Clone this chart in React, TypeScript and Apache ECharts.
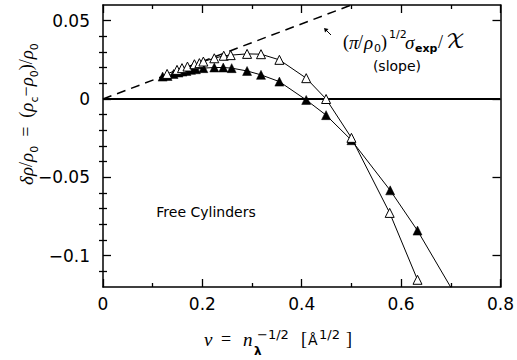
import React, { useEffect, useRef } from "react";
import * as echarts from "echarts";

// Open triangles (upper curve)
const openX = [0.129, 0.149, 0.159, 0.170, 0.184, 0.194, 0.202, 0.224, 0.243, 0.257, 0.290, 0.318, 0.355, 0.409, 0.449, 0.500, 0.577, 0.633];
const openY = [0.0160, 0.0186, 0.0197, 0.0207, 0.0222, 0.0229, 0.0239, 0.0260, 0.0276, 0.0280, 0.0288, 0.0286, 0.0250, 0.0133, 0.0000, -0.0248, -0.0727, -0.1154];

// Filled triangles (lower curve); last point lies below the frame
const filledX = [0.120, 0.130, 0.142, 0.152, 0.160, 0.168, 0.177, 0.187, 0.202, 0.224, 0.242, 0.259, 0.290, 0.318, 0.355, 0.409, 0.449, 0.500, 0.578, 0.633, 0.720];
const filledY = [0.0143, 0.0147, 0.0160, 0.0169, 0.0175, 0.0179, 0.0186, 0.0190, 0.0197, 0.0201, 0.0201, 0.0197, 0.0179, 0.0154, 0.0111, -0.0006, -0.0103, -0.0263, -0.0583, -0.0840, -0.1310];

// Slope line (dashed) and zero line
const slopeX = [0, 0.5];
const slopeY = [0, 0.06];
const zeroX = [0, 0.8];
const zeroY = [0, 0];

// Axis ticks
const xMin = 0, xMax = 0.8, xInterval = 0.2;
const yMin = -0.12, yMax = 0.06;
const yMajorTicks = [-0.1, -0.05, 0, 0.05];
const yMinorTicks = [-0.11, -0.09, -0.08, -0.07, -0.06, -0.04, -0.03, -0.02, -0.01, 0.01, 0.02, 0.03, 0.04];

const pairs = (xs: number[], ys: number[]) => xs.map((x, i) => [x, ys[i]]);

const SERIF = "'Liberation Serif', 'DejaVu Serif', serif";
const SANS = "'DejaVu Sans', sans-serif";

function txt(x: number, y: number, text: string, font: any, extra: any = {}) {
  return {
    type: "text",
    x,
    y,
    silent: true,
    style: {
      text,
      fill: "#000",
      align: "left",
      verticalAlign: "middle",
      ...font,
    },
    ...extra,
  };
}

export default function App() {
  const ref = useRef<HTMLDivElement>(null);
  useEffect(() => {
    document.body.style.margin = "0";
    if (!ref.current) return;
    const chart = echarts.init(ref.current, null, { renderer: "svg" });
    const fmt = (v: number) => (v === 0 ? "0" : String(v).replace("-", "\u2212"));
    const axisLine = { show: true, onZero: false, lineStyle: { color: "#000", width: 1.5 } };
    const majorTick = { show: true, inside: true, length: 8, lineStyle: { color: "#000", width: 1.3 } };
    const minorTick = { show: true, inside: true, length: 4, lineStyle: { color: "#000", width: 1.3 } };
    const label = { show: true, color: "#000", fontFamily: SANS, fontSize: 17, formatter: fmt };

    const black = { fill: "#000" };
    const it = { fontFamily: SERIF, fontStyle: "italic", fontSize: 19, ...black };
    const up = { fontFamily: SERIF, fontSize: 18, ...black };
    const sub = { fontFamily: SANS, fontSize: 11, ...black };

    chart.setOption({
      animation: false,
      grid: { left: 103, right: 13, top: 5, bottom: 73, containLabel: false },
      xAxis: [
        {
          type: "value", position: "bottom", min: xMin, max: xMax, interval: xInterval,
          axisLine, axisTick: majorTick, splitLine: { show: false },
          minorTick: { show: true, splitNumber: 2, length: 4, lineStyle: { color: "#000", width: 1.3 } },
          axisLabel: { ...label, margin: 8 },
        },
        {
          type: "value", position: "top", min: xMin, max: xMax, interval: xInterval,
          axisLine, axisTick: majorTick, splitLine: { show: false },
          minorTick: { show: true, splitNumber: 2, length: 4, lineStyle: { color: "#000", width: 1.3 } },
          axisLabel: { show: false },
        },
      ],
      yAxis: [
        {
          type: "value", position: "left", min: yMin, max: yMax,
          axisLine, splitLine: { show: false },
          axisTick: { ...majorTick, customValues: yMajorTicks },
          axisLabel: { ...label, margin: 13, customValues: yMajorTicks },
        },
        {
          type: "value", position: "left", min: yMin, max: yMax,
          axisLine: { show: false }, splitLine: { show: false },
          axisTick: { ...minorTick, customValues: yMinorTicks },
          axisLabel: { show: false },
        },
        {
          type: "value", position: "right", min: yMin, max: yMax,
          axisLine, splitLine: { show: false },
          axisTick: { ...majorTick, customValues: yMajorTicks },
          axisLabel: { show: false },
        },
        {
          type: "value", position: "right", min: yMin, max: yMax,
          axisLine: { show: false }, splitLine: { show: false },
          axisTick: { ...minorTick, customValues: yMinorTicks },
          axisLabel: { show: false },
        },
      ],
      series: [
        {
          type: "line", data: pairs(zeroX, zeroY), symbol: "none", silent: true,
          lineStyle: { color: "#000", width: 2 },
        },
        {
          type: "line", data: pairs(slopeX, slopeY), symbol: "none", silent: true,
          lineStyle: { color: "#000", width: 1.5, type: [9, 6] },
        },
        {
          type: "line", data: pairs(filledX, filledY), symbol: "triangle", symbolSize: 9,
          clip: true, silent: true,
          lineStyle: { color: "#000", width: 1 },
          itemStyle: { color: "#000", borderColor: "#000", borderWidth: 0.5 },
        },
        {
          type: "line", data: pairs(openX, openY), symbol: "triangle", symbolSize: 9,
          clip: true, silent: true,
          lineStyle: { color: "#000", width: 1 },
          itemStyle: { color: "#fff", borderColor: "#000", borderWidth: 1 },
        },
      ],
      graphic: [
        // Y axis title (rotated)
        {
          type: "text",
          x: 28,
          y: 114,
          rotation: Math.PI / 2,
          silent: true,
          style: {
            text: "{g|δρ}{n|/}{g|ρ}{s|0}{n|\u2002=\u2002(}{g|ρ}{s|c}{n|−}{g|ρ}{s|0}{n|)/}{g|ρ}{s|0}",
            align: "center",
            verticalAlign: "middle",
            ...black,
            rich: {
              g: { ...it, lineHeight: 22, verticalAlign: "top" },
              n: { ...up, lineHeight: 22, verticalAlign: "top" },
              s: { ...sub, lineHeight: 12, padding: [12, 0, 0, 0], verticalAlign: "top" },
            },
          },
        },
        // X axis title pieces
        txt(204, 339, "ν", { fontFamily: SERIF, fontStyle: "italic", fontSize: 19 }),
        txt(221, 339, "=", { fontFamily: SERIF, fontSize: 18 }),
        txt(243, 339, "n", { fontFamily: SERIF, fontStyle: "italic", fontSize: 19 }),
        txt(257, 334, "−1/2", { fontFamily: SANS, fontSize: 13 }),
        txt(254, 351, "λ", { fontFamily: SANS, fontSize: 12, fontWeight: "bold" }),
        txt(301, 339, "[", { fontFamily: SERIF, fontSize: 18 }),
        txt(308, 340, "Å", { fontFamily: SANS, fontSize: 14 }),
        txt(319, 334, "1/2", { fontFamily: SANS, fontSize: 13 }),
        txt(346, 339, "]", { fontFamily: SERIF, fontSize: 18 }),
        // Free Cylinders
        txt(206, 212, "Free Cylinders", { fontFamily: SANS, fontSize: 14, align: "center" }),
        // Slope annotation
        txt(343, 42, "(", { fontFamily: SERIF, fontSize: 18 }),
        txt(349, 42, "π", { fontFamily: SERIF, fontStyle: "italic", fontSize: 19 }),
        txt(358, 42, "/", { fontFamily: SERIF, fontSize: 18 }),
        txt(364, 42, "ρ", { fontFamily: SERIF, fontStyle: "italic", fontSize: 19 }),
        txt(374, 48, "0", { fontFamily: SANS, fontSize: 11 }),
        txt(381, 42, ")", { fontFamily: SERIF, fontSize: 18 }),
        txt(389, 34, "1/2", { fontFamily: SANS, fontSize: 11 }),
        txt(405, 42, "σ", { fontFamily: SERIF, fontStyle: "italic", fontSize: 19 }),
        txt(415, 48, "exp", { fontFamily: SANS, fontSize: 11, fontWeight: "bold" }),
        txt(438, 42, "/", { fontFamily: SERIF, fontSize: 18 }),
        txt(446, 42, "𝒳", { fontFamily: "'DejaVu Math TeX Gyre', " + SERIF, fontSize: 20 }),
        txt(397, 66, "(slope)", { fontFamily: SANS, fontSize: 14, align: "center" }),
        // small arrow
        {
          type: "line", silent: true,
          shape: { x1: 331, y1: 35, x2: 326, y2: 30 },
          style: { stroke: "#000", lineWidth: 1 },
        },
        {
          type: "polygon", silent: true,
          shape: { points: [[324, 28], [328.5, 29], [325, 32.5]] },
          style: { fill: "#000" },
        },
      ],
    });
    return () => chart.dispose();
  }, []);
  return <div ref={ref} style={{ width: 517, height: 360 }} />;
}
